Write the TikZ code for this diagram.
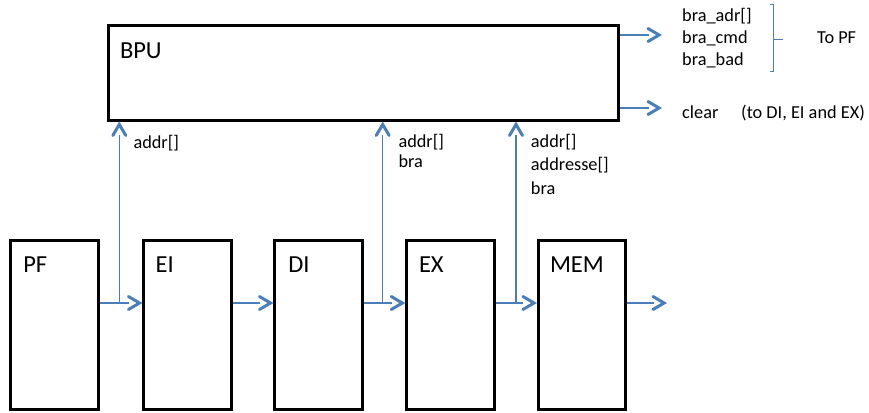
\documentclass[tikz,border=0pt]{standalone}
\usepackage{fontspec}
\setmainfont{Carlito}
\usetikzlibrary{arrows.meta}
\definecolor{linkblue}{HTML}{4A7EBB}
% open chevron head with a heavy stroke
\pgfdeclarearrow{
  name = Chev,
  setup code = {
    \pgfarrowssettipend{0pt}
    \pgfarrowssetlineend{-13.5pt}
    \pgfarrowssetbackend{-15.5pt}
    \pgfarrowsupperhullpoint{-15.5pt}{8pt}
    \pgfarrowsupperhullpoint{0pt}{0pt}
  },
  drawing code = {
    \pgfsetdash{}{+0pt}
    \pgfsetlinewidth{3pt}
    \pgfsetroundcap
    \pgfsetmiterjoin
    \pgfpathmoveto{\pgfqpoint{-14pt}{6.5pt}}
    \pgfpathlineto{\pgfqpoint{-2.95pt}{0pt}}
    \pgfpathlineto{\pgfqpoint{-14pt}{-6.5pt}}
    \pgfusepathqstroke
  }
}
\begin{document}
\begin{tikzpicture}[x=1pt,y=-1pt,
  stage/.style={draw=black, line width=3pt, minimum width=87.5pt, minimum height=169pt, inner sep=0pt},
  big/.style={font=\fontsize{24.5}{29}\selectfont, anchor=base west, inner sep=0pt},
  small/.style={font=\fontsize{18.3}{22}\selectfont, anchor=base west, inner sep=0pt},
  flow/.style={draw=linkblue, line width=1.5pt, -{Chev}},
  wire/.style={draw=linkblue, line width=1.5pt}]
\useasboundingbox (0,0) rectangle (869,412);

% pipeline stages
\node[stage] (pf)  at (54.4,324.7)  {};
\node[stage] (ei)  at (187.7,324.7) {};
\node[stage] (di)  at (318.7,324.7) {};
\node[stage] (ex)  at (450.5,324.7) {};
\node[stage] (mem) at (582.2,324.7) {};
% branch prediction unit
\node[draw, line width=3pt, minimum width=510.4pt, minimum height=94.3pt, inner sep=0pt] (bpu) at (363.5,72.85) {};

% block titles
\node[big] (tbpu) at (119.8,58.3)  {BPU};
\node[big] (tpf)  at (23.1,272.5)  {PF};
\node[big] (tei)  at (155.4,272.5) {EI};
\node[big] (tdi)  at (288.1,272.5) {DI};
\node[big] (tex)  at (418.8,272.5) {EX};
\node[big] (tmem) at (549.8,272.5) {MEM};

% signals into the BPU
\node[small] (s1a) at (133.3,148)   {addr[]};
\node[small] (s2a) at (398.3,147)   {addr[]};
\node[small] (s2b) at (398.3,167.5) {bra};
\node[small] (s3a) at (530.7,147)   {addr[]};
\node[small] (s3b) at (530.7,170.5) {addresse[]};
\node[small] (s3c) at (530.7,194)   {bra};

% signals out of the BPU
\node[small] (o1) at (682,21.7)  {bra\_adr[]};
\node[small] (o2) at (682,43.3)  {bra\_cmd};
\node[small] (o3) at (682,65)    {bra\_bad};
\node[small] (o4) at (682,118.3) {clear};
\node[small] (o5) at (741,118.3) {(to DI, EI and EX)};
\node[small] (o6) at (817,43.3)  {To PF};

% pipeline flow
\coordinate (j1) at (119.3,303);
\coordinate (j2) at (382.7,303);
\coordinate (j3) at (516,303);
\coordinate (memout) at (667,303);
\draw[flow] (pf.east |- j1) -- (ei.west |- j1);
\draw[flow] (ei.east |- j1) -- (di.west |- j1);
\draw[flow] (di.east |- j1) -- (ex.west |- j1);
\draw[flow] (ex.east |- j1) -- (mem.west |- j1);
\draw[flow] (mem.east |- j1) -- (memout);

% taps up to the BPU
\draw[flow] (j1) -- (j1 |- bpu.south);
\draw[flow] (j2) -- (j2 |- bpu.south);
\draw[flow] (j3) -- (j3 |- bpu.south);

% BPU outputs
\coordinate (oa) at (662,35);
\coordinate (ob) at (662,108);
\draw[flow] (bpu.east |- oa) -- (oa);
\draw[flow] (bpu.east |- ob) -- (ob);

% brace grouping the PF signals
\draw[wire] (770,4.5) -- (773.3,4.5) -- (773.3,71.7) -- (770,71.7);
\draw[wire] (773.3,39.3) -- (782.7,39.3);
\end{tikzpicture}
\end{document}
